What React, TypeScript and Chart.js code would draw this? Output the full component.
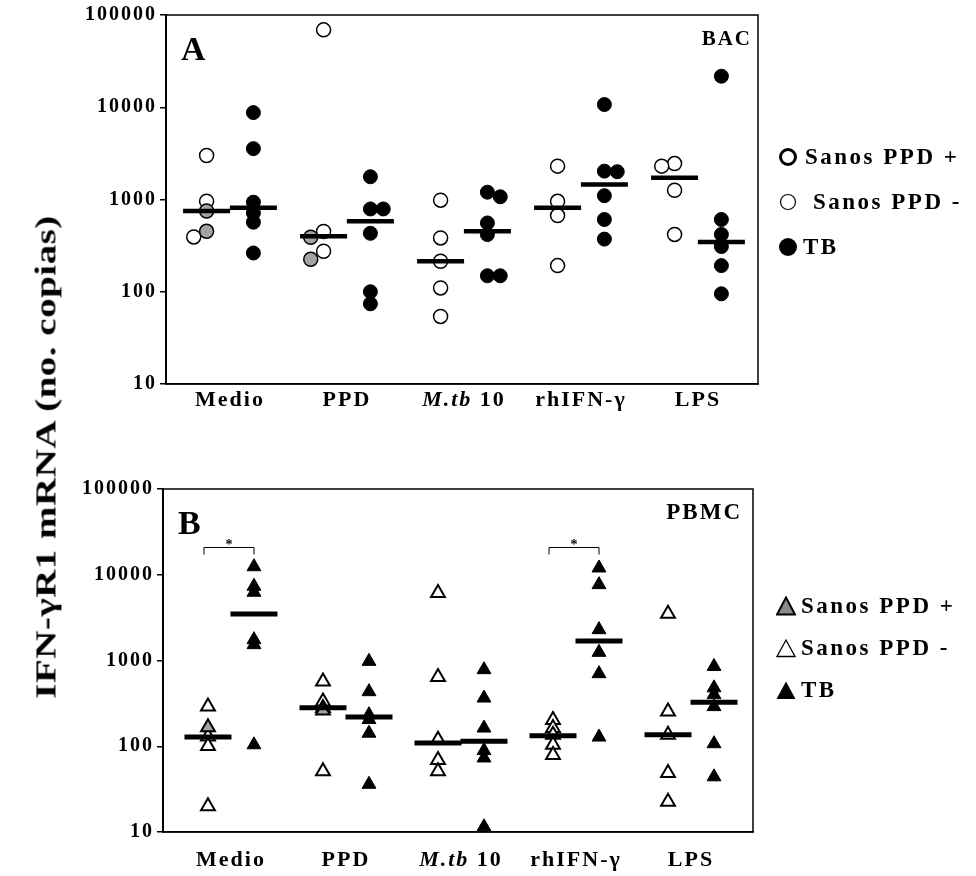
import React, { useEffect, useRef } from 'react';
import { Chart, registerables } from 'chart.js';

Chart.register(...registerables);

const FONT = "'Liberation Serif', 'Times New Roman', serif";

// ---------- data ----------
const categories = ['Medio', 'PPD', 'M.tb 10', 'rhIFN-γ', 'LPS'];
const yTicks = [10, 100, 1000, 10000, 100000];

// Panel A (BAC)
const bacSanosPos = [[750, 452], [390, 225], [], [], []];
const bacSanosNeg = [[3000, 960, 393], [69000, 450, 275], [983, 383, 214, 110, 54], [2300, 955, 670, 192], [2450, 2300, 1260, 418]];
const bacTB = [[8750, 3560, 935, 716, 567, 263], [1765, 790, 790, 430, 100, 74], [1200, 1070, 557, 417, 149, 149], [10700, 2030, 2000, 1100, 607, 372], [21700, 607, 418, 309, 192, 95]];
const bacSanosMedian = [750, 400, 214, 812, 1720];
const bacTBMedian = [813, 580, 452, 1455, 346];

// Panel B (PBMC)
const pbmcSanosPos = [[167], [262], [], [], []];
const pbmcSanosNeg = [[290, 130, 101, 20], [570, 333, 280, 51], [6140, 641, 119, 69, 51], [203, 163, 136, 104, 79], [3520, 254, 136, 48.6, 22.6]];
const pbmcTB = [[12400, 7340, 6250, 1750, 1530, 104], [977, 433, 233, 205, 142, 36], [782, 365, 163, 89, 73, 11.5], [12000, 7670, 2290, 1245, 702, 128], [853, 480, 400, 290, 107, 44]];
const pbmcSanosMedian = [128, 282, 109, 133, 136];
const pbmcTBMedian = [3490, 219, 114, 1690, 327];
const pbmcSignificant = [0, 3];
const bracketLevel = 20800;

// ---------- helpers ----------
function dodgeOffsets(values: number[], thr: number, dir: number) {
  const order = values.map((_, i) => i).sort((a, b) => values[b] - values[a]);
  const off = new Array(values.length).fill(0);
  let prev = Infinity;
  let prevShift = false;
  for (const i of order) {
    const l = Math.log10(values[i]);
    if (thr > 0 && prev - l < thr && !prevShift) {
      off[i] = dir * 0.11;
      prevShift = true;
    } else prevShift = false;
    prev = l;
  }
  return off;
}

function buildDatasets(pos: number[][], neg: number[][], tb: number[][], medS: number[], medT: number[], cfg: any) {
  const posPts: any[] = [];
  const negPts: any[] = [];
  const tbPts: any[] = [];
  const medPts: any[] = [];
  categories.forEach((_, i) => {
    const sVals = [...pos[i], ...neg[i]];
    const sOff = dodgeOffsets(sVals, cfg.dodge, -1);
    sVals.forEach((v, k) => (k < pos[i].length ? posPts : negPts).push({ x: i - 0.2 + sOff[k], y: v }));
    const tOff = dodgeOffsets(tb[i], cfg.dodge, 1);
    tb[i].forEach((v, k) => tbPts.push({ x: i + 0.2 + tOff[k], y: v }));
    medPts.push({ x: i - 0.2, y: medS[i] }, { x: i + 0.2, y: medT[i] });
  });
  return [
    { label: 'mediana', data: medPts, pointStyle: 'line', pointRadius: cfg.medR, pointBorderColor: '#000', pointBackgroundColor: '#000', pointBorderWidth: cfg.medW, showLine: false },
    { label: 'TB', data: tbPts, pointStyle: cfg.shape, pointRadius: cfg.r, pointBackgroundColor: '#000', pointBorderColor: '#000', pointBorderWidth: 1, showLine: false },
    { label: 'Sanos PPD +', data: posPts, pointStyle: cfg.shape, pointRadius: cfg.r, pointBackgroundColor: '#a3a3a3', pointBorderColor: '#000', pointBorderWidth: cfg.bw, showLine: false },
    { label: 'Sanos PPD -', data: negPts, pointStyle: cfg.shape, pointRadius: cfg.r, pointBackgroundColor: '#fff', pointBorderColor: '#000', pointBorderWidth: cfg.bw, showLine: false },
  ];
}

const decorPlugin = (cfg: any) => ({
  id: 'decor',
  beforeDraw(chart: any) {
    chart.ctx.letterSpacing = '2px';
  },
  afterDraw(chart: any) {
    const { ctx, chartArea: a, scales } = chart;
    const xs = scales.x;
    const ys = scales.y;
    ctx.save();
    ctx.strokeStyle = '#000';
    ctx.lineWidth = 1.5;
    ctx.strokeRect(a.left, a.top, a.right - a.left, a.bottom - a.top);
    ctx.fillStyle = '#000';
    // panel letter
    ctx.letterSpacing = '0px';
    ctx.font = `bold 34px ${FONT}`;
    ctx.textAlign = 'left';
    ctx.textBaseline = 'alphabetic';
    ctx.fillText(cfg.letter, a.left + 15, a.top + 45);
    // cell type tag
    ctx.letterSpacing = '2px';
    ctx.font = `bold ${cfg.tagSize}px ${FONT}`;
    ctx.textAlign = 'right';
    ctx.fillText(cfg.tag, a.right - cfg.tagInset, a.top + 30);
    // mixed-style category label (M.tb italic)
    const px = xs.getPixelForValue(2);
    const yy = xs.top + cfg.xPad + cfg.xSize * 0.6;
    ctx.textBaseline = 'middle';
    ctx.textAlign = 'left';
    ctx.font = `italic bold ${cfg.xSize}px ${FONT}`;
    const w1 = ctx.measureText('M.tb').width;
    ctx.font = `bold ${cfg.xSize}px ${FONT}`;
    const w2 = ctx.measureText(' 10').width;
    const sx = px - (w1 + w2) / 2;
    ctx.font = `italic bold ${cfg.xSize}px ${FONT}`;
    ctx.fillText('M.tb', sx, yy);
    ctx.font = `bold ${cfg.xSize}px ${FONT}`;
    ctx.fillText(' 10', sx + w1, yy);
    // significance brackets
    (cfg.sig || []).forEach((i: number) => {
      const x1 = xs.getPixelForValue(i - 0.2) - 4;
      const x2 = xs.getPixelForValue(i + 0.2);
      const yb = ys.getPixelForValue(bracketLevel);
      ctx.lineWidth = 1;
      ctx.beginPath();
      ctx.moveTo(x1, yb + 7);
      ctx.lineTo(x1, yb);
      ctx.lineTo(x2, yb);
      ctx.lineTo(x2, yb + 7);
      ctx.stroke();
      ctx.letterSpacing = '0px';
      ctx.font = `bold 14px ${FONT}`;
      ctx.textAlign = 'center';
      ctx.textBaseline = 'alphabetic';
      ctx.fillText('*', (x1 + x2) / 2, yb + 2);
    });
    ctx.restore();
  },
});

function Panel({ cfg, datasets }: { cfg: any; datasets: any[] }) {
  const ref = useRef<HTMLCanvasElement>(null);
  useEffect(() => {
    const chart = new Chart(ref.current as HTMLCanvasElement, {
      type: 'scatter',
      data: { datasets } as any,
      options: {
        responsive: false,
        animation: false,
        events: [],
        layout: { autoPadding: false, padding: { top: cfg.padTop, right: cfg.padRight, left: 0, bottom: 0 } },
        plugins: { legend: { display: false }, tooltip: { enabled: false } },
        scales: {
          x: {
            type: 'linear',
            min: cfg.xMin,
            max: cfg.xMax,
            afterBuildTicks: (s: any) => {
              s.ticks = categories.map((_, i) => ({ value: i }));
            },
            afterFit: (s: any) => {
              s.height = cfg.xHeight;
              s.paddingLeft = 0;
              s.paddingRight = 0;
            },
            ticks: {
              callback: (v: any) => categories[v],
              color: (c: any) => (c.index === 2 ? 'rgba(0,0,0,0)' : '#000'),
              font: { family: FONT, size: cfg.xSize, weight: 'bold' },
              padding: cfg.xPad,
              maxRotation: 0,
              autoSkip: false,
            },
            grid: { display: false, drawTicks: false },
            border: { display: true, color: '#000', width: 1.5 },
          },
          y: {
            type: 'logarithmic',
            min: 10,
            max: 100000,
            afterBuildTicks: (s: any) => {
              s.ticks = yTicks.map((v) => ({ value: v }));
            },
            afterFit: (s: any) => {
              s.width = cfg.yWidth;
              s.paddingTop = 0;
              s.paddingBottom = 0;
            },
            ticks: {
              callback: (v: any) => String(v),
              color: '#000',
              font: { family: FONT, size: 20, weight: 'bold' },
              padding: 3,
              autoSkip: false,
            },
            grid: { display: true, drawOnChartArea: false, drawTicks: true, tickLength: 6, color: '#000', lineWidth: 1.5 },
            border: { display: true, color: '#000', width: 2 },
          },
        },
      } as any,
      plugins: [decorPlugin(cfg)],
    });
    return () => chart.destroy();
  }, []);
  return (
    <canvas
      ref={ref}
      width={976}
      height={cfg.height}
      style={{ position: 'absolute', left: 0, top: cfg.top, width: 976, height: cfg.height }}
    />
  );
}

const cfgA = {
  top: 0, height: 425, padTop: 15, padRight: 218, yWidth: 166, xHeight: 41,
  xMin: -0.547, xMax: 4.513, xSize: 22, xPad: 3,
  letter: 'A', tag: 'BAC', tagSize: 21, tagInset: 6,
  shape: 'circle', r: 7, bw: 1.5, medR: 23.5, medW: 4.5, dodge: 0.09, sig: [],
};
const cfgB = {
  top: 440, height: 436, padTop: 49, padRight: 223, yWidth: 163, xHeight: 44,
  xMin: -0.591, xMax: 4.539, xSize: 22, xPad: 15,
  letter: 'B', tag: 'PBMC', tagSize: 23, tagInset: 11,
  shape: 'triangle', r: 8, bw: 2, medR: 23.5, medW: 5, dodge: 0, sig: pbmcSignificant,
};

const dsA = buildDatasets(bacSanosPos, bacSanosNeg, bacTB, bacSanosMedian, bacTBMedian, cfgA);
const dsB = buildDatasets(pbmcSanosPos, pbmcSanosNeg, pbmcTB, pbmcSanosMedian, pbmcTBMedian, cfgB);

function Sym({ kind }: { kind: string }) {
  const s = 20;
  let el: any = null;
  if (kind === 'cThick') el = <circle cx={10} cy={10} r={7.5} fill="#fff" stroke="#000" strokeWidth={3} />;
  else if (kind === 'cThin') el = <circle cx={10} cy={10} r={7.5} fill="#fff" stroke="#000" strokeWidth={1.2} />;
  else if (kind === 'cFill') el = <circle cx={10} cy={10} r={9} fill="#000" />;
  else if (kind === 'tGray') el = <polygon points="10,1.5 19,18.5 1,18.5" fill="#8a8a8a" stroke="#000" strokeWidth={2} />;
  else if (kind === 'tOpen') el = <polygon points="10,2 19,18.5 1,18.5" fill="#fff" stroke="#000" strokeWidth={1.3} />;
  else el = <polygon points="10,1.5 19.5,19 0.5,19" fill="#000" />;
  return (
    <svg width={s} height={s} style={{ display: 'block' }}>
      {el}
    </svg>
  );
}

const legendText: React.CSSProperties = {
  fontFamily: FONT,
  fontWeight: 'bold',
  fontSize: 23,
  letterSpacing: '2.5px',
  whiteSpace: 'nowrap',
  color: '#000',
};

function LegendRow({ x, y, kind, text, gap }: { x: number; y: number; kind: string; text: string; gap: number }) {
  return (
    <div style={{ position: 'absolute', left: x, top: y - 13, height: 26, display: 'flex', alignItems: 'center' }}>
      <Sym kind={kind} />
      <span style={{ ...legendText, marginLeft: gap }}>{text}</span>
    </div>
  );
}

export default function App() {
  return (
    <div style={{ position: 'absolute', left: 0, top: 0, width: 976, height: 876, background: '#fff', overflow: 'hidden' }}>
      <Panel cfg={cfgA} datasets={dsA} />
      <Panel cfg={cfgB} datasets={dsB} />
      <div
        style={{
          position: 'absolute',
          left: 45,
          top: 457,
          transform: 'translate(-50%, -50%) rotate(-90deg) scale(1, 0.78)',
          fontFamily: FONT,
          fontWeight: 'bold',
          fontSize: 39,
          letterSpacing: '0.5px',
          whiteSpace: 'nowrap',
          color: '#000',
        }}
      >
        IFN-γR1 mRNA (no. copias)
      </div>
      <LegendRow x={778} y={157} kind="cThick" text="Sanos PPD +" gap={7} />
      <LegendRow x={778} y={202} kind="cThin" text="Sanos PPD -" gap={15} />
      <LegendRow x={778} y={247} kind="cFill" text="TB" gap={5} />
      <LegendRow x={776} y={606} kind="tGray" text="Sanos PPD +" gap={5} />
      <LegendRow x={776} y={648} kind="tOpen" text="Sanos PPD -" gap={5} />
      <LegendRow x={776} y={690} kind="tFill" text="TB" gap={5} />
    </div>
  );
}
